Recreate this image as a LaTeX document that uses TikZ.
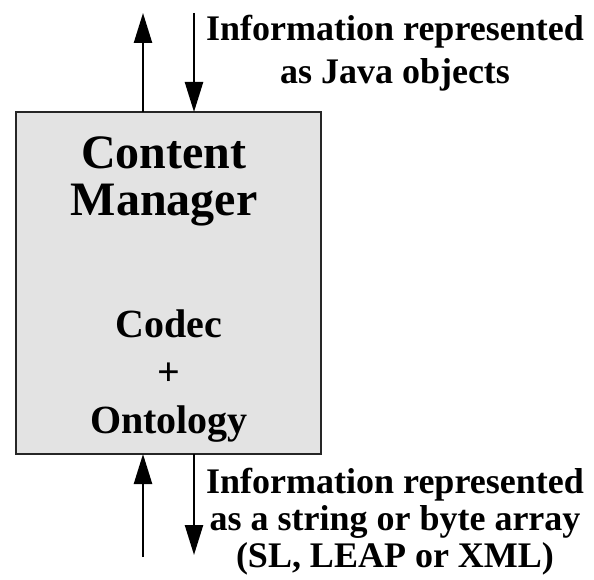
\documentclass[tikz,border=0pt]{standalone}
\usepackage{fontspec}
\setmainfont{Liberation Serif}
\usetikzlibrary{arrows.meta}
\begin{document}
\begin{tikzpicture}[x=1pt, y=-1pt,
  flow/.style={line width=2.4pt, -{Triangle[length=30pt,width=18pt]}},
  mgrbox/.style={draw=black!85, fill=black!11, line width=2pt, outer sep=0pt,
    inner sep=0pt, minimum width=305pt, minimum height=342pt},
  title/.style={font=\bfseries\fontsize{48}{47}\selectfont, align=center,
    inner sep=0pt, anchor=base},
  inner/.style={font=\bfseries\fontsize{40}{48}\selectfont, align=center,
    inner sep=0pt, anchor=base},
  toplab/.style={font=\bfseries\fontsize{36}{43}\selectfont, align=center,
    inner sep=0pt, anchor=base},
  botlab/.style={font=\bfseries\fontsize{36}{37}\selectfont, align=center,
    inner sep=0pt, anchor=base}]
\useasboundingbox (0,0) rectangle (594,580);

% the content manager block (multi-line nodes are placed by their last baseline)
\node[mgrbox] (cm) at (168.5,283) {};
\node[title] (ttl) at (164,215) {Content\\Manager};
\node[inner] (cdc) at (169,433) {Codec\\+\\Ontology};

% exchange with the application side
\coordinate (up1) at (143,13);
\coordinate (dn1) at (194,13);
\draw[flow] (cm.north -| up1) -- (up1);
\draw[flow] (dn1) -- (cm.north -| dn1);
\node[toplab] (jv) at (395,84) {Information represented\\as Java objects};

% exchange with the transport side
\coordinate (up2) at (143,557);
\coordinate (dn2) at (194,555);
\draw[flow] (up2) -- (cm.south -| up2);
\draw[flow] (cm.south -| dn2) -- (dn2);
\node[botlab] (str) at (395,567) {Information represented\\as a string or byte array\\(SL, LEAP or XML)};
\end{tikzpicture}
\end{document}
